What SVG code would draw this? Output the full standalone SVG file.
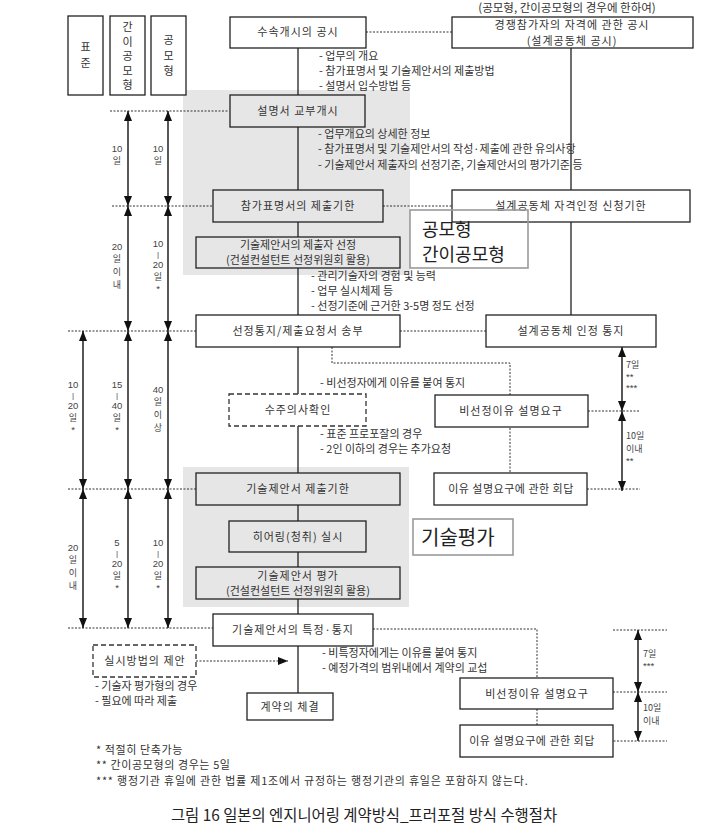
<svg xmlns="http://www.w3.org/2000/svg" width="720" height="832" viewBox="0 0 720 832">
<defs>
<marker id="ah" viewBox="0 0 10 8" refX="10" refY="4" markerUnits="userSpaceOnUse" markerWidth="10" markerHeight="8" orient="auto-start-reverse"><path d="M0,0 L10,4 L0,8 Z" fill="#111"/></marker>
<style>
.box{fill:#fff;stroke:#222;stroke-width:1.3}
.boxn{fill:none;stroke:#222;stroke-width:1.3}
.dash{fill:#fff;stroke:#333;stroke-width:1.3;stroke-dasharray:5 3}
.call{fill:none;stroke:#9a9a9a;stroke-width:1.6}
.gray{fill:#e6e6e6}
.t{font-family:"Noto Sans CJK KR","Noto Sans",sans-serif;font-size:11px;fill:#333}
.bx{letter-spacing:1px}
.c{text-anchor:middle}
.s{font-size:9px;fill:#444}
.a{font-family:"Liberation Sans",sans-serif;font-size:9.5px}
.bar{font-family:"Liberation Sans",sans-serif;font-size:8px}
.big{font-size:18px;fill:#222}
.ln{stroke:#222;stroke-width:1.3;fill:none}
.dot{stroke:#333;stroke-width:1;stroke-dasharray:2 1.5;fill:none}
.arr{stroke:#111;stroke-width:1.4;fill:none;marker-start:url(#ah);marker-end:url(#ah)}
.cap{font-size:15.4px;fill:#222}
</style>
</defs>
<rect width="720" height="832" fill="#fff"/>
<g id="shading">
<rect class="gray" x="183" y="90" width="227" height="185"/>
<rect class="gray" x="183" y="467" width="226" height="140"/>
</g>
<g id="connectors">
<path class="ln" d="M298,48V95 M298,127V190 M298,222V237 M298,268V315 M298,347V394 M298,426V473 M298,505V521 M298,552V567 M298,599V614 M298,646V693"/>
<path class="ln" d="M571,48V190 M571,222V315"/>
<path class="dot" d="M366,32H452 M110,111H229 M112,206H213 M383,206H452 M68,331H196 M400,331H486 M68,489H196 M68,628H213"/>
<path class="dot" d="M332,347V363H510V396 M510,428V473 M588,411H640 M587,489H640"/>
<path class="dot" d="M373,629H537V678 M537,709V725 M613,630H667 M613,692H667 M603,741H667"/>
<path class="dot" d="M196,661H288" marker-end="url(#ah)"/>
<path class="arr" d="M128,111V206"/><path class="arr" d="M168,111V206"/>
<path class="arr" d="M128,206V331"/><path class="arr" d="M168,206V331"/>
<path class="arr" d="M83,331V489"/><path class="arr" d="M128,331V489"/><path class="arr" d="M168,331V489"/>
<path class="arr" d="M83,489V628"/><path class="arr" d="M128,489V628"/><path class="arr" d="M168,489V628"/>
<path class="arr" d="M622,347V411"/><path class="arr" d="M622,411V491"/>
<path class="arr" d="M638,630V692"/><path class="arr" d="M638,692V741"/>
</g>
<g id="header">
<rect class="box" x="68" y="16" width="35" height="79"/>
<text class="t c" x="85.5" y="51">표<tspan x="85.5" dy="16">준</tspan></text>
<rect class="box" x="110" y="16" width="35" height="79"/>
<text class="t c" x="127.5" y="31">간<tspan x="127.5" dy="14.5">이</tspan><tspan x="127.5" dy="14.5">공</tspan><tspan x="127.5" dy="14.5">모</tspan><tspan x="127.5" dy="14.5">형</tspan></text>
<rect class="box" x="151" y="16" width="35" height="79"/>
<text class="t c" x="168.5" y="44">공<tspan x="168.5" dy="15.5">모</tspan><tspan x="168.5" dy="15.5">형</tspan></text>
</g>
<g id="labels-left">
<text class="t s c" x="117" y="152"><tspan class="a">10</tspan><tspan x="117" dy="12">일</tspan></text>
<text class="t s c" x="158" y="152"><tspan class="a">10</tspan><tspan x="158" dy="12">일</tspan></text>
<text class="t s c" x="117" y="250"><tspan class="a">20</tspan><tspan x="117" dy="12">일</tspan><tspan x="117" dy="13">이</tspan><tspan x="117" dy="13">내</tspan></text>
<text class="t s c" x="158" y="247"><tspan class="a">10</tspan><tspan x="158" dy="10" class="bar">|</tspan><tspan x="158" dy="11" class="a">20</tspan><tspan x="158" dy="12">일</tspan><tspan x="158" dy="12" class="a">*</tspan></text>
<text class="t s c" x="73" y="388"><tspan class="a">10</tspan><tspan x="73" dy="10" class="bar">|</tspan><tspan x="73" dy="11" class="a">20</tspan><tspan x="73" dy="12">일</tspan><tspan x="73" dy="12" class="a">*</tspan></text>
<text class="t s c" x="117" y="388"><tspan class="a">15</tspan><tspan x="117" dy="10" class="bar">|</tspan><tspan x="117" dy="11" class="a">40</tspan><tspan x="117" dy="12">일</tspan><tspan x="117" dy="12" class="a">*</tspan></text>
<text class="t s c" x="158" y="393"><tspan class="a">40</tspan><tspan x="158" dy="12">일</tspan><tspan x="158" dy="13">이</tspan><tspan x="158" dy="13">상</tspan></text>
<text class="t s c" x="73" y="551"><tspan class="a">20</tspan><tspan x="73" dy="12">일</tspan><tspan x="73" dy="13">이</tspan><tspan x="73" dy="13">내</tspan></text>
<text class="t s c" x="117" y="546"><tspan class="a">5</tspan><tspan x="117" dy="10" class="bar">|</tspan><tspan x="117" dy="11" class="a">20</tspan><tspan x="117" dy="12">일</tspan><tspan x="117" dy="12" class="a">*</tspan></text>
<text class="t s c" x="158" y="546"><tspan class="a">10</tspan><tspan x="158" dy="10" class="bar">|</tspan><tspan x="158" dy="11" class="a">20</tspan><tspan x="158" dy="12">일</tspan><tspan x="158" dy="12" class="a">*</tspan></text>
</g>
<g id="labels-right">
<text class="t s" x="626" y="368">7일<tspan x="626" dy="12" class="a">**</tspan><tspan x="626" dy="11" class="a">***</tspan></text>
<text class="t s" x="626" y="439">10일<tspan x="626" dy="13">이내</tspan><tspan x="626" dy="12" class="a">**</tspan></text>
<text class="t s" x="643" y="657">7일<tspan x="643" dy="12" class="a">***</tspan></text>
<text class="t s" x="643" y="711">10일<tspan x="643" dy="13">이내</tspan></text>
</g>
<g id="n-start">
<rect class="box" x="230" y="17" width="136" height="31"/>
<text class="t c bx" x="298" y="36">수속개시의 공시</text>
</g>
<g id="n-qual-notice">
<text class="t c" x="567" y="12" style="font-size:11.5px">(공모형, 간이공모형의 경우에 한하여)</text>
<rect class="box" x="452" y="17" width="241" height="31"/>
<text class="t c bx" x="572" y="29">경쟁참가자의 자격에 관한 공시</text>
<text class="t c bx" x="572" y="45">(설계공동체 공시)</text>
</g>
<g id="bullets-1">
<text class="t" x="319" y="60">- 업무의 개요</text>
<text class="t" x="319" y="75">- 참가표명서 및 기술제안서의 제출방법</text>
<text class="t" x="319" y="90">- 설명서 입수방법 등</text>
</g>
<g id="n-explain">
<rect class="boxn" x="230" y="95" width="135" height="32"/>
<text class="t c bx" x="298" y="115">설명서 교부개시</text>
</g>
<g id="bullets-2">
<text class="t" x="318" y="138">- 업무개요의 상세한 정보</text>
<text class="t" x="318" y="153">- 참가표명서 및 기술제안서의 작성·제출에 관한 유의사항</text>
<text class="t" x="318" y="169">- 기술제안서 제출자의 선정기준, 기술제안서의 평가기준 등</text>
</g>
<g id="n-entry-deadline">
<rect class="boxn" x="213" y="190" width="170" height="32"/>
<text class="t c bx" x="298" y="210">참가표명서의 제출기한</text>
</g>
<g id="n-jv-deadline">
<rect class="box" x="452" y="190" width="238" height="32"/>
<text class="t c bx" x="571" y="210">설계공동체 자격인정 신청기한</text>
</g>
<g id="n-callout-1">
<rect class="call" x="410" y="210" width="118" height="58"/>
<text class="t big" x="422" y="236">공모형<tspan x="422" dy="25">간이공모형</tspan></text>
</g>
<g id="n-select">
<rect class="boxn" x="196" y="237" width="204" height="31"/>
<text class="t c" x="298" y="249">기술제안서의 제출자 선정</text>
<text class="t c" x="298" y="264">(건설컨설턴트 선정위원회 활용)</text>
</g>
<g id="bullets-3">
<text class="t" x="311" y="280">- 관리기술자의 경험 및 능력</text>
<text class="t" x="311" y="295">- 업무 실시체제 등</text>
<text class="t" x="311" y="310">- 선정기준에 근거한 3-5명 정도 선정</text>
</g>
<g id="n-sel-notice">
<rect class="box" x="196" y="315" width="204" height="32"/>
<text class="t c bx" x="298" y="335">선정통지/제출요청서 송부</text>
</g>
<g id="n-jv-notice">
<rect class="box" x="486" y="315" width="170" height="32"/>
<text class="t c bx" x="571" y="335">설계공동체 인정 통지</text>
</g>
<g id="bullets-4">
<text class="t" x="320" y="387">- 비선정자에게 이유를 붙여 통지</text>
</g>
<g id="n-intent">
<rect class="dash" x="229" y="394" width="137" height="32"/>
<text class="t c bx" x="298" y="414">수주의사확인</text>
</g>
<g id="n-reason-req-1">
<rect class="box" x="435" y="395" width="153" height="32"/>
<text class="t c bx" x="511" y="415">비선정이유 설명요구</text>
</g>
<g id="bullets-5">
<text class="t" x="320" y="438">- 표준 프로포잘의 경우</text>
<text class="t" x="320" y="453">- 2인 이하의 경우는 추가요청</text>
</g>
<g id="n-prop-deadline">
<rect class="boxn" x="196" y="473" width="204" height="32"/>
<text class="t c bx" x="298" y="493">기술제안서 제출기한</text>
</g>
<g id="n-reason-ans-1">
<rect class="box" x="434" y="473" width="153" height="32"/>
<text class="t c" x="511" y="493" style="letter-spacing:0.5px">이유 설명요구에 관한 회답</text>
</g>
<g id="n-hearing">
<rect class="boxn" x="229" y="521" width="137" height="31"/>
<text class="t c bx" x="298" y="541">히어링(청취) 실시</text>
</g>
<g id="n-callout-2">
<rect class="call" x="413" y="519" width="100" height="36"/>
<text class="t" x="421" y="545" style="font-size:20px;fill:#222">기술평가</text>
</g>
<g id="n-eval">
<rect class="boxn" x="196" y="567" width="204" height="32"/>
<text class="t c bx" x="298" y="580">기술제안서 평가</text>
<text class="t c" x="298" y="595">(건설컨설턴트 선정위원회 활용)</text>
</g>
<g id="n-specify">
<rect class="box" x="213" y="614" width="160" height="32"/>
<text class="t c bx" x="293" y="634">기술제안서의 특정·통지</text>
</g>
<g id="bullets-6">
<text class="t" x="322" y="657">- 비특정자에게는 이유를 붙여 통지</text>
<text class="t" x="322" y="672">- 예정가격의 범위내에서 계약의 교섭</text>
</g>
<g id="n-method">
<rect class="dash" x="93" y="645" width="103" height="32"/>
<text class="t c bx" x="145" y="665">실시방법의 제안</text>
</g>
<g id="bullets-7">
<text class="t" x="95" y="690">- 기술자 평가형의 경우</text>
<text class="t" x="95" y="705">- 필요에 따라 제출</text>
</g>
<g id="n-contract">
<rect class="box" x="247" y="693" width="86" height="27"/>
<text class="t c bx" x="290" y="711">계약의 체결</text>
</g>
<g id="n-reason-req-2">
<rect class="box" x="460" y="678" width="153" height="31"/>
<text class="t c bx" x="537" y="698">비선정이유 설명요구</text>
</g>
<g id="n-reason-ans-2">
<rect class="box" x="460" y="725" width="153" height="32"/>
<text class="t c" x="532" y="745" style="letter-spacing:0.5px">이유 설명요구에 관한 회답</text>
</g>
<g id="notes">
<text class="t" x="96" y="754" style="letter-spacing:0.6px">* 적절히 단축가능</text>
<text class="t" x="96" y="769" style="letter-spacing:0.6px">** 간이공모형의 경우는 5일</text>
<text class="t" x="96" y="785" style="letter-spacing:0.8px">*** 행정기관 휴일에 관한 법률 제1조에서 규정하는 행정기관의 휴일은 포함하지 않는다.</text>
<text class="t c cap" x="364" y="821">그림 16 일본의 엔지니어링 계약방식_프러포절 방식 수행절차</text>
</g>
</svg>
